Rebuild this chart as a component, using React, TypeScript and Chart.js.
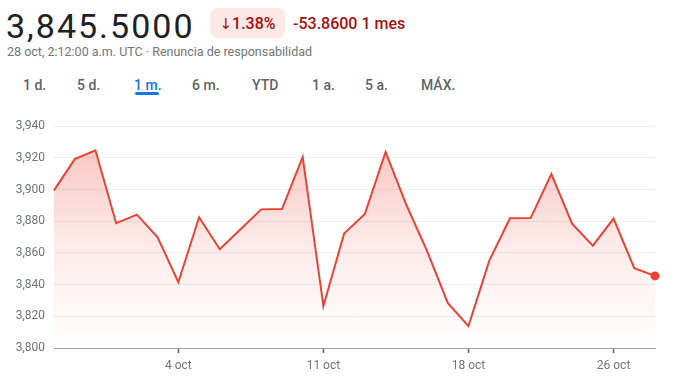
import React, { useEffect, useRef } from "react";
import { Chart, registerables } from "chart.js";

Chart.register(...registerables);

const dates = [
  "28 sept", "29 sept", "30 sept", "1 oct", "2 oct", "3 oct", "4 oct", "5 oct", "6 oct", "7 oct",
  "8 oct", "9 oct", "10 oct", "11 oct", "12 oct", "13 oct", "14 oct", "15 oct", "16 oct", "17 oct",
  "18 oct", "19 oct", "21 oct", "22 oct", "23 oct", "24 oct", "25 oct", "26 oct", "27 oct", "28 oct",
];
const prices = [
  3899.5, 3919.2, 3924.8, 3878.8, 3884.2, 3869.8, 3841.5, 3882.5, 3862.3, 3875.0,
  3887.5, 3887.7, 3920.6, 3826.5, 3872.3, 3884.6, 3923.8, 3890.4, 3861.3, 3828.5,
  3813.8, 3855.0, 3881.9, 3882.0, 3909.8, 3878.5, 3864.6, 3881.7, 3850.4, 3845.5,
];
const shownXTicks = ["4 oct", "11 oct", "18 oct", "26 oct"];
const yMin = 3800;
const yMax = 3940;
const yStep = 20;
const tabs = ["1 d.", "5 d.", "1 m.", "6 m.", "YTD", "1 a.", "5 a.", "MÁX."];
const tabX = [23, 77, 134, 192, 252, 312, 365, 421];
const selectedTab = "1 m.";

const RED = "#ea4335";
const FONT = "Roboto, 'Noto Sans', sans-serif";

function txt(top: number, left: number, fs: number, extra: React.CSSProperties = {}): React.CSSProperties {
  return {
    position: "absolute",
    top,
    left,
    fontSize: fs,
    lineHeight: `${fs}px`,
    fontFamily: FONT,
    whiteSpace: "nowrap",
    ...extra,
  };
}

export default function App() {
  const canvasRef = useRef<HTMLCanvasElement | null>(null);

  useEffect(() => {
    const canvas = canvasRef.current;
    if (!canvas) return;
    const chart = new Chart(canvas, {
      type: "line",
      data: {
        labels: dates,
        datasets: [
          {
            data: prices,
            borderColor: RED,
            borderWidth: 2,
            tension: 0,
            fill: "start",
            clip: 10,
            backgroundColor: (ctx: any) => {
              const ch = ctx.chart;
              const area = ch.chartArea;
              if (!area) return "rgba(234,67,53,0.15)";
              const g = ch.ctx.createLinearGradient(0, area.top, 0, area.bottom);
              g.addColorStop(0, "rgba(234,67,53,0.34)");
              g.addColorStop(0.55, "rgba(234,67,53,0.10)");
              g.addColorStop(1, "rgba(234,67,53,0.0)");
              return g;
            },
            pointRadius: (ctx: any) => (ctx.dataIndex === prices.length - 1 ? 4.5 : 0),
            pointBackgroundColor: RED,
            pointBorderColor: RED,
            pointBorderWidth: 0,
            pointHoverRadius: 0,
          },
        ],
      },
      options: {
        animation: false,
        responsive: false,
        maintainAspectRatio: false,
        events: [],
        layout: { padding: { top: 14, right: 21, bottom: 10, left: 0 } },
        plugins: {
          legend: { display: false },
          tooltip: { enabled: false },
        },
        scales: {
          x: {
            type: "category",
            offset: false,
            afterFit: (axis: any) => {
              axis.height = 28;
            },
            border: { display: true, color: "#9aa0a6", width: 1 },
            grid: {
              drawOnChartArea: false,
              drawTicks: true,
              tickLength: 5,
              tickWidth: 1.5,
              color: (ctx: any) => {
                const lbl = dates[ctx.index];
                return shownXTicks.includes(lbl) ? "#5f6368" : "rgba(0,0,0,0)";
              },
            },
            ticks: {
              autoSkip: false,
              maxRotation: 0,
              padding: 6,
              color: "#70757a",
              font: { family: FONT, size: 12 },
              callback: (_v: any, i: number) => (shownXTicks.includes(dates[i]) ? dates[i] : ""),
            },
          },
          y: {
            min: yMin,
            max: yMax,
            afterFit: (axis: any) => {
              axis.width = 54;
            },
            border: { display: false },
            grid: {
              drawTicks: false,
              color: (ctx: any) => (ctx.tick && ctx.tick.value === yMin ? "rgba(0,0,0,0)" : "#eceef0"),
              lineWidth: 1,
            },
            ticks: {
              stepSize: yStep,
              padding: 9,
              color: "#70757a",
              font: { family: FONT, size: 12 },
              callback: (v: any) => Number(v).toLocaleString("en-US"),
            },
          },
        },
      },
    } as any);
    return () => chart.destroy();
  }, []);

  return (
    <div
      style={{
        position: "absolute",
        left: 0,
        top: 0,
        width: 676,
        height: 386,
        background: "#ffffff",
        overflow: "hidden",
        fontFamily: FONT,
      }}
    >
      <div style={txt(8.7, 6, 34, { color: "#202124", letterSpacing: "2px" })}>3,845.5000</div>
      <div
        style={{
          position: "absolute",
          left: 210,
          top: 8,
          width: 75,
          height: 30,
          borderRadius: 8,
          background: "#fce8e6",
        }}
      />
      <div style={txt(15.8, 219.5, 16, { color: "#a50e0e", fontWeight: 500 })}>
        <span style={{ fontFamily: "'DejaVu Sans', sans-serif", fontSize: 15 }}>↓</span>1.38%
      </div>
      <div style={txt(15.8, 293, 16, { color: "#a50e0e", fontWeight: 500 })}>-53.8600 1 mes</div>
      <div style={txt(46.2, 7, 12.5, { color: "#70757a" })}>
        28 oct, 2:12:00 a.m. UTC · Renuncia de responsabilidad
      </div>
      {tabs.map((t, i) => (
        <div
          key={t}
          style={txt(77.5, tabX[i], 14, {
            color: t === selectedTab ? "#1a73e8" : "#5f6368",
            fontWeight: 500,
          })}
        >
          {t}
        </div>
      ))}
      <div
        style={{
          position: "absolute",
          left: 135,
          top: 92,
          width: 24,
          height: 3,
          borderRadius: 2,
          background: "#1a73e8",
        }}
      />
      <canvas
        ref={canvasRef}
        width={676}
        height={276}
        style={{ position: "absolute", left: 0, top: 110, width: 676, height: 276 }}
      />
    </div>
  );
}
